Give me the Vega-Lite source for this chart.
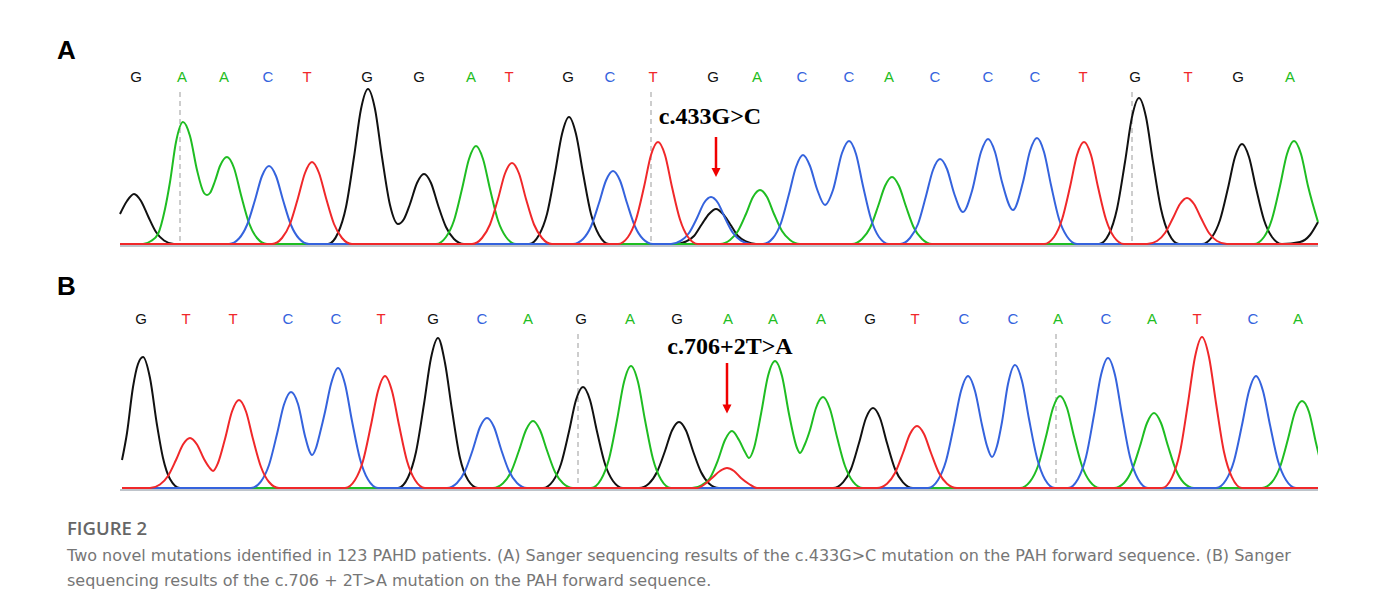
{
"$schema": "https://vega.github.io/schema/vega-lite/v6.json",
"background": "#ffffff",
"padding": {"left": 57, "top": 38, "right": 20, "bottom": 10},
"config": {"view": {"stroke": null}},
"resolve": {"scale": {"x": "independent", "y": "independent"}},
"spacing": 26,
"title": {"text": "FIGURE 2", "subtitle": ["Two novel mutations identified in 123 PAHD patients. (A) Sanger sequencing results of the c.433G>C mutation on the PAH forward sequence. (B) Sanger", "sequencing results of the c.706 + 2T>A mutation on the PAH forward sequence."], "orient": "bottom", "anchor": "start", "frame": "group", "dx": -53, "offset": 29, "baseline": "top", "font": "Open Sans", "fontSize": 18.5, "fontWeight": 600, "color": "#666666", "subtitleFont": "DejaVu Sans", "subtitleFontSize": 16, "subtitleFontWeight": "normal", "subtitleColor": "#767676", "subtitleLineHeight": 24.6, "subtitlePadding": 9.5},
"datasets": {
"trA": [
{"base":"G","pos":120,"sig":30},{"base":"G","pos":127,"sig":43},{"base":"G","pos":134,"sig":50},{"base":"G","pos":141,"sig":43},{"base":"G","pos":148,"sig":28},{"base":"G","pos":156,"sig":12},{"base":"G","pos":164,"sig":3.5},{"base":"G","pos":174,"sig":0},
{"base":"G","pos":328,"sig":0},{"base":"G","pos":338,"sig":11},{"base":"G","pos":346,"sig":37},{"base":"G","pos":354,"sig":87},{"base":"G","pos":361,"sig":135},{"base":"G","pos":368,"sig":155},{"base":"G","pos":375,"sig":135},{"base":"G","pos":382,"sig":87},{"base":"G","pos":390,"sig":39},{"base":"G","pos":398,"sig":20},{"base":"G","pos":404,"sig":25},{"base":"G","pos":410,"sig":40},{"base":"G","pos":417,"sig":61},{"base":"G","pos":424,"sig":70},{"base":"G","pos":431,"sig":61},{"base":"G","pos":438,"sig":39},{"base":"G","pos":446,"sig":17},{"base":"G","pos":454,"sig":5},{"base":"G","pos":464,"sig":0},
{"base":"G","pos":529,"sig":0},{"base":"G","pos":539,"sig":9},{"base":"G","pos":547,"sig":30},{"base":"G","pos":555,"sig":71},{"base":"G","pos":562,"sig":110},{"base":"G","pos":569,"sig":127},{"base":"G","pos":576,"sig":110},{"base":"G","pos":583,"sig":71},{"base":"G","pos":591,"sig":30},{"base":"G","pos":599,"sig":9},{"base":"G","pos":609,"sig":0},
{"base":"G","pos":676,"sig":0},{"base":"G","pos":686,"sig":2.5},{"base":"G","pos":694,"sig":8},{"base":"G","pos":702,"sig":20},{"base":"G","pos":709,"sig":30},{"base":"G","pos":716,"sig":35},{"base":"G","pos":723,"sig":30},{"base":"G","pos":730,"sig":20},{"base":"G","pos":738,"sig":8},{"base":"G","pos":746,"sig":2.5},{"base":"G","pos":756,"sig":0},
{"base":"G","pos":1099,"sig":0},{"base":"G","pos":1109,"sig":10},{"base":"G","pos":1117,"sig":35},{"base":"G","pos":1125,"sig":82},{"base":"G","pos":1132,"sig":127},{"base":"G","pos":1139,"sig":146},{"base":"G","pos":1146,"sig":127},{"base":"G","pos":1153,"sig":82},{"base":"G","pos":1161,"sig":35},{"base":"G","pos":1169,"sig":10},{"base":"G","pos":1179,"sig":0},
{"base":"G","pos":1202,"sig":0},{"base":"G","pos":1212,"sig":7},{"base":"G","pos":1220,"sig":24},{"base":"G","pos":1228,"sig":56},{"base":"G","pos":1235,"sig":87},{"base":"G","pos":1242,"sig":100},{"base":"G","pos":1249,"sig":87},{"base":"G","pos":1256,"sig":56},{"base":"G","pos":1264,"sig":24},{"base":"G","pos":1272,"sig":7},{"base":"G","pos":1282,"sig":0},{"base":"G","pos":1300,"sig":2},{"base":"G","pos":1310,"sig":9},{"base":"G","pos":1318,"sig":22},
{"base":"A","pos":120,"sig":0},{"base":"A","pos":143,"sig":0},{"base":"A","pos":151,"sig":3},{"base":"A","pos":158,"sig":10},{"base":"A","pos":165,"sig":35},{"base":"A","pos":170,"sig":62},{"base":"A","pos":176,"sig":102},{"base":"A","pos":183,"sig":122},{"base":"A","pos":190,"sig":108},{"base":"A","pos":197,"sig":74},{"base":"A","pos":204,"sig":51},{"base":"A","pos":207,"sig":49},{"base":"A","pos":210,"sig":51},{"base":"A","pos":215,"sig":63},{"base":"A","pos":220,"sig":78},{"base":"A","pos":227,"sig":87},{"base":"A","pos":234,"sig":76},{"base":"A","pos":241,"sig":49},{"base":"A","pos":249,"sig":21},{"base":"A","pos":257,"sig":6},{"base":"A","pos":267,"sig":0},
{"base":"A","pos":436,"sig":0},{"base":"A","pos":446,"sig":7},{"base":"A","pos":454,"sig":23.5},{"base":"A","pos":462,"sig":55},{"base":"A","pos":469,"sig":85},{"base":"A","pos":476,"sig":98},{"base":"A","pos":483,"sig":85},{"base":"A","pos":490,"sig":55},{"base":"A","pos":498,"sig":23.5},{"base":"A","pos":506,"sig":7},{"base":"A","pos":516,"sig":0},
{"base":"A","pos":720,"sig":0},{"base":"A","pos":730,"sig":4},{"base":"A","pos":738,"sig":13},{"base":"A","pos":746,"sig":30},{"base":"A","pos":753,"sig":47},{"base":"A","pos":760,"sig":54},{"base":"A","pos":767,"sig":47},{"base":"A","pos":774,"sig":30},{"base":"A","pos":782,"sig":13},{"base":"A","pos":790,"sig":4},{"base":"A","pos":800,"sig":0},
{"base":"A","pos":852,"sig":0},{"base":"A","pos":862,"sig":5},{"base":"A","pos":870,"sig":16},{"base":"A","pos":878,"sig":37.5},{"base":"A","pos":885,"sig":58},{"base":"A","pos":892,"sig":67},{"base":"A","pos":899,"sig":58},{"base":"A","pos":906,"sig":37.5},{"base":"A","pos":914,"sig":16},{"base":"A","pos":922,"sig":5},{"base":"A","pos":932,"sig":0},
{"base":"A","pos":1254,"sig":0},{"base":"A","pos":1264,"sig":7},{"base":"A","pos":1272,"sig":25},{"base":"A","pos":1280,"sig":58},{"base":"A","pos":1287,"sig":90},{"base":"A","pos":1294,"sig":103},{"base":"A","pos":1301,"sig":90},{"base":"A","pos":1308,"sig":58},{"base":"A","pos":1318,"sig":22},
{"base":"C","pos":120,"sig":0},{"base":"C","pos":229,"sig":0},{"base":"C","pos":239,"sig":5.5},{"base":"C","pos":247,"sig":19},{"base":"C","pos":255,"sig":44},{"base":"C","pos":262,"sig":68},{"base":"C","pos":269,"sig":78},{"base":"C","pos":276,"sig":68},{"base":"C","pos":283,"sig":44},{"base":"C","pos":291,"sig":19},{"base":"C","pos":299,"sig":5.5},{"base":"C","pos":309,"sig":0},
{"base":"C","pos":573,"sig":0},{"base":"C","pos":583,"sig":5},{"base":"C","pos":591,"sig":17.5},{"base":"C","pos":599,"sig":41},{"base":"C","pos":606,"sig":63.5},{"base":"C","pos":613,"sig":73},{"base":"C","pos":620,"sig":63.5},{"base":"C","pos":627,"sig":41},{"base":"C","pos":635,"sig":17.5},{"base":"C","pos":643,"sig":5},{"base":"C","pos":653,"sig":0},
{"base":"C","pos":671,"sig":0},{"base":"C","pos":681,"sig":3.3},{"base":"C","pos":689,"sig":11},{"base":"C","pos":697,"sig":26},{"base":"C","pos":704,"sig":41},{"base":"C","pos":711,"sig":47},{"base":"C","pos":718,"sig":41},{"base":"C","pos":725,"sig":26},{"base":"C","pos":733,"sig":11},{"base":"C","pos":741,"sig":3.3},{"base":"C","pos":751,"sig":0},
{"base":"C","pos":763,"sig":0},{"base":"C","pos":773,"sig":6},{"base":"C","pos":781,"sig":21},{"base":"C","pos":789,"sig":50},{"base":"C","pos":796,"sig":77},{"base":"C","pos":803,"sig":89},{"base":"C","pos":810,"sig":78},{"base":"C","pos":817,"sig":55},{"base":"C","pos":825,"sig":39},{"base":"C","pos":833,"sig":54},{"base":"C","pos":842,"sig":91},{"base":"C","pos":849,"sig":103},{"base":"C","pos":856,"sig":90},{"base":"C","pos":863,"sig":58},{"base":"C","pos":871,"sig":25},{"base":"C","pos":879,"sig":7},{"base":"C","pos":889,"sig":0},
{"base":"C","pos":900,"sig":0},{"base":"C","pos":910,"sig":6},{"base":"C","pos":918,"sig":20},{"base":"C","pos":926,"sig":48},{"base":"C","pos":933,"sig":74},{"base":"C","pos":940,"sig":85},{"base":"C","pos":947,"sig":75},{"base":"C","pos":954,"sig":51},{"base":"C","pos":963,"sig":32},{"base":"C","pos":972,"sig":53},{"base":"C","pos":981,"sig":92},{"base":"C","pos":988,"sig":105},{"base":"C","pos":995,"sig":92},{"base":"C","pos":1002,"sig":62},{"base":"C","pos":1013,"sig":34},{"base":"C","pos":1023,"sig":62},{"base":"C","pos":1030,"sig":93},{"base":"C","pos":1037,"sig":106},{"base":"C","pos":1044,"sig":92},{"base":"C","pos":1051,"sig":59},{"base":"C","pos":1059,"sig":25},{"base":"C","pos":1067,"sig":7.5},{"base":"C","pos":1077,"sig":0},{"base":"C","pos":1318,"sig":0},
{"base":"T","pos":120,"sig":0},{"base":"T","pos":272,"sig":0},{"base":"T","pos":282,"sig":6},{"base":"T","pos":290,"sig":20},{"base":"T","pos":298,"sig":46},{"base":"T","pos":305,"sig":71},{"base":"T","pos":312,"sig":82},{"base":"T","pos":319,"sig":71},{"base":"T","pos":326,"sig":46},{"base":"T","pos":334,"sig":20},{"base":"T","pos":342,"sig":6},{"base":"T","pos":352,"sig":0},
{"base":"T","pos":472,"sig":0},{"base":"T","pos":482,"sig":6},{"base":"T","pos":490,"sig":19.5},{"base":"T","pos":498,"sig":45},{"base":"T","pos":505,"sig":70.5},{"base":"T","pos":512,"sig":81},{"base":"T","pos":519,"sig":70.5},{"base":"T","pos":526,"sig":45},{"base":"T","pos":534,"sig":19.5},{"base":"T","pos":542,"sig":6},{"base":"T","pos":552,"sig":0},
{"base":"T","pos":618,"sig":0},{"base":"T","pos":628,"sig":7},{"base":"T","pos":636,"sig":24.5},{"base":"T","pos":644,"sig":57},{"base":"T","pos":651,"sig":89},{"base":"T","pos":658,"sig":102},{"base":"T","pos":665,"sig":89},{"base":"T","pos":672,"sig":57},{"base":"T","pos":680,"sig":24.5},{"base":"T","pos":688,"sig":7},{"base":"T","pos":698,"sig":0},
{"base":"T","pos":1044,"sig":0},{"base":"T","pos":1054,"sig":7},{"base":"T","pos":1062,"sig":24.5},{"base":"T","pos":1070,"sig":57},{"base":"T","pos":1077,"sig":89},{"base":"T","pos":1084,"sig":102},{"base":"T","pos":1091,"sig":89},{"base":"T","pos":1098,"sig":57},{"base":"T","pos":1106,"sig":24.5},{"base":"T","pos":1114,"sig":7},{"base":"T","pos":1124,"sig":0},
{"base":"T","pos":1147,"sig":0},{"base":"T","pos":1157,"sig":3},{"base":"T","pos":1165,"sig":11},{"base":"T","pos":1173,"sig":26},{"base":"T","pos":1180,"sig":40},{"base":"T","pos":1187,"sig":46},{"base":"T","pos":1194,"sig":40},{"base":"T","pos":1201,"sig":26},{"base":"T","pos":1209,"sig":11},{"base":"T","pos":1217,"sig":3},{"base":"T","pos":1227,"sig":0},{"base":"T","pos":1318,"sig":0}
],
"trB": [
{"base":"G","pos":122,"sig":28},{"base":"G","pos":127,"sig":55},{"base":"G","pos":133,"sig":101},{"base":"G","pos":138,"sig":124},{"base":"G","pos":143,"sig":131},{"base":"G","pos":150,"sig":110},{"base":"G","pos":157,"sig":63},{"base":"G","pos":163,"sig":30},{"base":"G","pos":170,"sig":9},{"base":"G","pos":180,"sig":0},
{"base":"G","pos":398,"sig":0},{"base":"G","pos":408,"sig":10.5},{"base":"G","pos":416,"sig":36},{"base":"G","pos":424,"sig":84},{"base":"G","pos":431,"sig":130},{"base":"G","pos":438,"sig":150},{"base":"G","pos":445,"sig":125},{"base":"G","pos":452,"sig":78},{"base":"G","pos":460,"sig":30},{"base":"G","pos":468,"sig":8},{"base":"G","pos":478,"sig":0},
{"base":"G","pos":543,"sig":0},{"base":"G","pos":553,"sig":7},{"base":"G","pos":561,"sig":24},{"base":"G","pos":569,"sig":56.5},{"base":"G","pos":576,"sig":88},{"base":"G","pos":583,"sig":101},{"base":"G","pos":590,"sig":88},{"base":"G","pos":597,"sig":56.5},{"base":"G","pos":605,"sig":24},{"base":"G","pos":613,"sig":7},{"base":"G","pos":623,"sig":0},
{"base":"G","pos":639,"sig":0},{"base":"G","pos":649,"sig":4.6},{"base":"G","pos":657,"sig":16},{"base":"G","pos":665,"sig":37},{"base":"G","pos":672,"sig":57.5},{"base":"G","pos":679,"sig":66},{"base":"G","pos":686,"sig":57.5},{"base":"G","pos":693,"sig":37},{"base":"G","pos":701,"sig":16},{"base":"G","pos":709,"sig":4.6},{"base":"G","pos":719,"sig":0},
{"base":"G","pos":833,"sig":0},{"base":"G","pos":843,"sig":5.6},{"base":"G","pos":851,"sig":19},{"base":"G","pos":859,"sig":45},{"base":"G","pos":866,"sig":70},{"base":"G","pos":873,"sig":80},{"base":"G","pos":880,"sig":70},{"base":"G","pos":887,"sig":45},{"base":"G","pos":895,"sig":19},{"base":"G","pos":903,"sig":5.6},{"base":"G","pos":913,"sig":0},{"base":"G","pos":1320,"sig":0},
{"base":"A","pos":122,"sig":0},{"base":"A","pos":493,"sig":0},{"base":"A","pos":503,"sig":4.7},{"base":"A","pos":511,"sig":16},{"base":"A","pos":519,"sig":37.5},{"base":"A","pos":526,"sig":58},{"base":"A","pos":533,"sig":67},{"base":"A","pos":540,"sig":58},{"base":"A","pos":547,"sig":37.5},{"base":"A","pos":555,"sig":16},{"base":"A","pos":563,"sig":4.7},{"base":"A","pos":573,"sig":0},
{"base":"A","pos":591,"sig":0},{"base":"A","pos":601,"sig":8.5},{"base":"A","pos":609,"sig":29},{"base":"A","pos":617,"sig":68},{"base":"A","pos":624,"sig":106},{"base":"A","pos":631,"sig":122},{"base":"A","pos":638,"sig":106},{"base":"A","pos":645,"sig":68},{"base":"A","pos":653,"sig":29},{"base":"A","pos":661,"sig":8.5},{"base":"A","pos":671,"sig":0},
{"base":"A","pos":692,"sig":0},{"base":"A","pos":702,"sig":3},{"base":"A","pos":710,"sig":10},{"base":"A","pos":718,"sig":28},{"base":"A","pos":725,"sig":48},{"base":"A","pos":732,"sig":57},{"base":"A","pos":739,"sig":48},{"base":"A","pos":745,"sig":36},{"base":"A","pos":749,"sig":30},{"base":"A","pos":754,"sig":40},{"base":"A","pos":761,"sig":74},{"base":"A","pos":768,"sig":112},{"base":"A","pos":775,"sig":127},{"base":"A","pos":782,"sig":112},{"base":"A","pos":789,"sig":74},{"base":"A","pos":797,"sig":40},{"base":"A","pos":800,"sig":35},{"base":"A","pos":805,"sig":44},{"base":"A","pos":810,"sig":58},{"base":"A","pos":816,"sig":80},{"base":"A","pos":823,"sig":91},{"base":"A","pos":830,"sig":79},{"base":"A","pos":837,"sig":51},{"base":"A","pos":845,"sig":22},{"base":"A","pos":853,"sig":6.4},{"base":"A","pos":863,"sig":0},
{"base":"A","pos":1020,"sig":0},{"base":"A","pos":1030,"sig":6.4},{"base":"A","pos":1038,"sig":22},{"base":"A","pos":1046,"sig":51.5},{"base":"A","pos":1053,"sig":80},{"base":"A","pos":1060,"sig":92},{"base":"A","pos":1067,"sig":80},{"base":"A","pos":1074,"sig":51.5},{"base":"A","pos":1082,"sig":22},{"base":"A","pos":1090,"sig":6.4},{"base":"A","pos":1100,"sig":0},
{"base":"A","pos":1114,"sig":0},{"base":"A","pos":1124,"sig":5},{"base":"A","pos":1132,"sig":18},{"base":"A","pos":1140,"sig":42},{"base":"A","pos":1147,"sig":65},{"base":"A","pos":1154,"sig":75},{"base":"A","pos":1161,"sig":65},{"base":"A","pos":1168,"sig":42},{"base":"A","pos":1176,"sig":18},{"base":"A","pos":1184,"sig":5},{"base":"A","pos":1194,"sig":0},
{"base":"A","pos":1262,"sig":0},{"base":"A","pos":1272,"sig":6},{"base":"A","pos":1280,"sig":21},{"base":"A","pos":1288,"sig":49},{"base":"A","pos":1295,"sig":76},{"base":"A","pos":1302,"sig":87},{"base":"A","pos":1309,"sig":76},{"base":"A","pos":1316,"sig":45},{"base":"A","pos":1320,"sig":28},
{"base":"C","pos":122,"sig":0},{"base":"C","pos":251,"sig":0},{"base":"C","pos":261,"sig":6.7},{"base":"C","pos":269,"sig":23},{"base":"C","pos":277,"sig":54},{"base":"C","pos":284,"sig":83.5},{"base":"C","pos":291,"sig":96},{"base":"C","pos":298,"sig":84},{"base":"C","pos":305,"sig":52},{"base":"C","pos":309,"sig":38},{"base":"C","pos":312,"sig":33},{"base":"C","pos":316,"sig":40},{"base":"C","pos":320,"sig":55},{"base":"C","pos":325,"sig":76},{"base":"C","pos":331,"sig":104},{"base":"C","pos":338,"sig":120},{"base":"C","pos":345,"sig":104},{"base":"C","pos":352,"sig":67},{"base":"C","pos":360,"sig":29},{"base":"C","pos":368,"sig":8.4},{"base":"C","pos":378,"sig":0},
{"base":"C","pos":447,"sig":0},{"base":"C","pos":457,"sig":5},{"base":"C","pos":465,"sig":17},{"base":"C","pos":473,"sig":39},{"base":"C","pos":480,"sig":61},{"base":"C","pos":487,"sig":70},{"base":"C","pos":494,"sig":61},{"base":"C","pos":501,"sig":39},{"base":"C","pos":509,"sig":17},{"base":"C","pos":517,"sig":5},{"base":"C","pos":527,"sig":0},
{"base":"C","pos":928,"sig":0},{"base":"C","pos":938,"sig":8},{"base":"C","pos":946,"sig":27},{"base":"C","pos":954,"sig":63},{"base":"C","pos":961,"sig":97},{"base":"C","pos":968,"sig":112},{"base":"C","pos":975,"sig":97},{"base":"C","pos":982,"sig":63},{"base":"C","pos":987,"sig":42},{"base":"C","pos":992,"sig":31},{"base":"C","pos":997,"sig":42},{"base":"C","pos":1002,"sig":66},{"base":"C","pos":1008,"sig":104},{"base":"C","pos":1015,"sig":123},{"base":"C","pos":1022,"sig":107},{"base":"C","pos":1029,"sig":69},{"base":"C","pos":1037,"sig":30},{"base":"C","pos":1045,"sig":8.6},{"base":"C","pos":1055,"sig":0},
{"base":"C","pos":1068,"sig":0},{"base":"C","pos":1078,"sig":9},{"base":"C","pos":1086,"sig":31},{"base":"C","pos":1094,"sig":73},{"base":"C","pos":1101,"sig":113},{"base":"C","pos":1108,"sig":130},{"base":"C","pos":1115,"sig":113},{"base":"C","pos":1122,"sig":73},{"base":"C","pos":1130,"sig":31},{"base":"C","pos":1138,"sig":9},{"base":"C","pos":1148,"sig":0},
{"base":"C","pos":1216,"sig":0},{"base":"C","pos":1226,"sig":8},{"base":"C","pos":1234,"sig":27},{"base":"C","pos":1242,"sig":63},{"base":"C","pos":1249,"sig":97},{"base":"C","pos":1256,"sig":112},{"base":"C","pos":1263,"sig":97},{"base":"C","pos":1270,"sig":63},{"base":"C","pos":1278,"sig":27},{"base":"C","pos":1286,"sig":8},{"base":"C","pos":1296,"sig":0},{"base":"C","pos":1320,"sig":0},
{"base":"T","pos":122,"sig":0},{"base":"T","pos":150,"sig":0},{"base":"T","pos":160,"sig":3.5},{"base":"T","pos":168,"sig":12},{"base":"T","pos":176,"sig":28},{"base":"T","pos":183,"sig":43.5},{"base":"T","pos":190,"sig":50},{"base":"T","pos":197,"sig":43.5},{"base":"T","pos":204,"sig":29},{"base":"T","pos":209,"sig":21},{"base":"T","pos":213,"sig":17},{"base":"T","pos":218,"sig":25},{"base":"T","pos":225,"sig":49},{"base":"T","pos":232,"sig":76.5},{"base":"T","pos":239,"sig":88},{"base":"T","pos":246,"sig":76.5},{"base":"T","pos":253,"sig":49},{"base":"T","pos":261,"sig":21},{"base":"T","pos":269,"sig":6},{"base":"T","pos":279,"sig":0},
{"base":"T","pos":345,"sig":0},{"base":"T","pos":355,"sig":8},{"base":"T","pos":363,"sig":27},{"base":"T","pos":371,"sig":63},{"base":"T","pos":378,"sig":97},{"base":"T","pos":385,"sig":112},{"base":"T","pos":392,"sig":97},{"base":"T","pos":399,"sig":63},{"base":"T","pos":407,"sig":27},{"base":"T","pos":415,"sig":8},{"base":"T","pos":425,"sig":0},
{"base":"T","pos":697,"sig":0},{"base":"T","pos":705,"sig":4},{"base":"T","pos":712,"sig":10},{"base":"T","pos":720,"sig":17},{"base":"T","pos":727,"sig":20},{"base":"T","pos":734,"sig":17},{"base":"T","pos":741,"sig":10},{"base":"T","pos":749,"sig":4},{"base":"T","pos":757,"sig":0},
{"base":"T","pos":877,"sig":0},{"base":"T","pos":887,"sig":4.3},{"base":"T","pos":895,"sig":15},{"base":"T","pos":903,"sig":35},{"base":"T","pos":910,"sig":54},{"base":"T","pos":917,"sig":62},{"base":"T","pos":924,"sig":54},{"base":"T","pos":931,"sig":35},{"base":"T","pos":939,"sig":15},{"base":"T","pos":947,"sig":4.3},{"base":"T","pos":957,"sig":0},
{"base":"T","pos":1162,"sig":0},{"base":"T","pos":1172,"sig":10.6},{"base":"T","pos":1180,"sig":36},{"base":"T","pos":1188,"sig":85},{"base":"T","pos":1195,"sig":131},{"base":"T","pos":1202,"sig":151},{"base":"T","pos":1209,"sig":131},{"base":"T","pos":1216,"sig":85},{"base":"T","pos":1224,"sig":36},{"base":"T","pos":1232,"sig":10.6},{"base":"T","pos":1242,"sig":0},{"base":"T","pos":1320,"sig":0}
],
"ltA": [
{"base":"G","pos":136,"sig":167},{"base":"A","pos":182,"sig":167},{"base":"A","pos":224,"sig":167},{"base":"C","pos":268,"sig":167},{"base":"T","pos":307,"sig":167},{"base":"G","pos":367,"sig":167},{"base":"G","pos":419,"sig":167},{"base":"A","pos":471,"sig":167},{"base":"T","pos":509,"sig":167},{"base":"G","pos":568,"sig":167},{"base":"C","pos":610,"sig":167},{"base":"T","pos":653,"sig":167},{"base":"G","pos":713,"sig":167},{"base":"A","pos":757,"sig":167},{"base":"C","pos":802,"sig":167},{"base":"C","pos":849,"sig":167},{"base":"A","pos":889,"sig":167},{"base":"C","pos":935,"sig":167},{"base":"C","pos":988,"sig":167},{"base":"C","pos":1035,"sig":167},{"base":"T","pos":1083,"sig":167},{"base":"G","pos":1135,"sig":167},{"base":"T","pos":1188,"sig":167},{"base":"G","pos":1238,"sig":167},{"base":"A","pos":1290,"sig":167}
],
"ltB": [
{"base":"G","pos":141,"sig":169},{"base":"T","pos":186,"sig":169},{"base":"T","pos":233,"sig":169},{"base":"C","pos":288,"sig":169},{"base":"C","pos":336,"sig":169},{"base":"T","pos":381,"sig":169},{"base":"G","pos":433,"sig":169},{"base":"C","pos":482,"sig":169},{"base":"A","pos":528,"sig":169},{"base":"G","pos":581,"sig":169},{"base":"A","pos":630,"sig":169},{"base":"G","pos":677,"sig":169},{"base":"A","pos":728,"sig":169},{"base":"A","pos":773,"sig":169},{"base":"A","pos":821,"sig":169},{"base":"G","pos":870,"sig":169},{"base":"T","pos":915,"sig":169},{"base":"C","pos":964,"sig":169},{"base":"C","pos":1013,"sig":169},{"base":"A","pos":1058,"sig":169},{"base":"C","pos":1106,"sig":169},{"base":"A","pos":1152,"sig":169},{"base":"T","pos":1197,"sig":169},{"base":"C","pos":1253,"sig":169},{"base":"A","pos":1298,"sig":169}
]
},
"vconcat": [
{
"width": 1198, "height": 175,
"title": {"text": "A", "anchor": "start", "frame": "group", "dx": -63, "offset": 6, "baseline": "top", "font": "Liberation Sans", "fontSize": 26, "fontWeight": "bold", "color": "#000000"},
"layer": [
{"data": {"values": [{"pos": 180, "top": 152, "bottom": 0}, {"pos": 651, "top": 152, "bottom": 0}, {"pos": 1132, "top": 152, "bottom": 0}]}, "mark": {"type": "rule", "strokeDash": [5, 4], "strokeWidth": 1.5, "color": "#bdbdbd"},
 "encoding": {"x": {"field": "pos", "type": "quantitative", "scale": {"domain": [120, 1318], "nice": false, "zero": false}, "axis": null}, "y": {"field": "top", "type": "quantitative", "scale": {"domain": [-3, 172], "nice": false, "zero": false}, "axis": null}, "y2": {"field": "bottom"}}},
{"data": {"values": [{"level": -2}]}, "mark": {"type": "rule", "strokeWidth": 1.5, "color": "#a9b0ba"}, "encoding": {"y": {"field": "level", "type": "quantitative"}}},
{"data": {"name": "trA"}, "mark": {"type": "line", "interpolate": "monotone", "strokeWidth": 2},
 "encoding": {"x": {"field": "pos", "type": "quantitative"}, "y": {"field": "sig", "type": "quantitative"}, "color": {"field": "base", "type": "nominal", "scale": {"domain": ["A", "C", "G", "T"], "range": ["#1fbd22", "#3563dd", "#111111", "#f0282a"]}, "legend": null}}},
{"data": {"name": "ltA"}, "mark": {"type": "text", "font": "Liberation Sans", "fontSize": 15, "baseline": "middle", "align": "center"},
 "encoding": {"x": {"field": "pos", "type": "quantitative"}, "y": {"field": "sig", "type": "quantitative"}, "text": {"field": "base", "type": "nominal"}, "color": {"field": "base", "type": "nominal", "legend": null}}},
{"data": {"values": [{"label": "c.433G>C", "pos": 710, "sig": 120}]}, "mark": {"type": "text", "font": "Liberation Serif", "fontWeight": "bold", "fontSize": 24, "baseline": "alphabetic", "align": "center", "color": "#000000"},
 "encoding": {"x": {"field": "pos", "type": "quantitative"}, "y": {"field": "sig", "type": "quantitative"}, "text": {"field": "label", "type": "nominal"}}},
{"data": {"values": [{"pos": 716, "top": 107, "bot": 75}]}, "mark": {"type": "rule", "color": "#f00000", "strokeWidth": 2.5},
 "encoding": {"x": {"field": "pos", "type": "quantitative"}, "y": {"field": "top", "type": "quantitative"}, "y2": {"field": "bot"}}},
{"data": {"values": [{"pos": 716, "tip": 71.5}]}, "mark": {"type": "point", "shape": "M-1,-1L1,-1L0,1Z", "size": 81, "filled": true, "color": "#f00000", "opacity": 1, "strokeWidth": 0},
 "encoding": {"x": {"field": "pos", "type": "quantitative"}, "y": {"field": "tip", "type": "quantitative"}}}
]
},
{
"width": 1198, "height": 175,
"title": {"text": "B", "anchor": "start", "frame": "group", "dx": -63, "offset": 12, "baseline": "top", "font": "Liberation Sans", "fontSize": 26, "fontWeight": "bold", "color": "#000000"},
"layer": [
{"data": {"values": [{"pos": 578, "top": 154, "bottom": 0}, {"pos": 1056, "top": 154, "bottom": 0}]}, "mark": {"type": "rule", "strokeDash": [5, 4], "strokeWidth": 1.5, "color": "#bdbdbd"},
 "encoding": {"x": {"field": "pos", "type": "quantitative", "scale": {"domain": [120, 1318], "nice": false, "zero": false}, "axis": null}, "y": {"field": "top", "type": "quantitative", "scale": {"domain": [-3, 172], "nice": false, "zero": false}, "axis": null}, "y2": {"field": "bottom"}}},
{"data": {"values": [{"level": -2}]}, "mark": {"type": "rule", "strokeWidth": 1.5, "color": "#a9b0ba"}, "encoding": {"y": {"field": "level", "type": "quantitative"}}},
{"data": {"name": "trB"}, "mark": {"type": "line", "interpolate": "monotone", "strokeWidth": 2, "clip": true},
 "encoding": {"x": {"field": "pos", "type": "quantitative"}, "y": {"field": "sig", "type": "quantitative"}, "color": {"field": "base", "type": "nominal", "legend": null}}},
{"data": {"name": "ltB"}, "mark": {"type": "text", "font": "Liberation Sans", "fontSize": 15, "baseline": "middle", "align": "center"},
 "encoding": {"x": {"field": "pos", "type": "quantitative"}, "y": {"field": "sig", "type": "quantitative"}, "text": {"field": "base", "type": "nominal"}, "color": {"field": "base", "type": "nominal", "legend": null}}},
{"data": {"values": [{"label": "c.706+2T>A", "pos": 730, "sig": 134}]}, "mark": {"type": "text", "font": "Liberation Serif", "fontWeight": "bold", "fontSize": 24, "baseline": "alphabetic", "align": "center", "color": "#000000"},
 "encoding": {"x": {"field": "pos", "type": "quantitative"}, "y": {"field": "sig", "type": "quantitative"}, "text": {"field": "label", "type": "nominal"}}},
{"data": {"values": [{"pos": 727, "top": 125, "bot": 83}]}, "mark": {"type": "rule", "color": "#f00000", "strokeWidth": 2.5},
 "encoding": {"x": {"field": "pos", "type": "quantitative"}, "y": {"field": "top", "type": "quantitative"}, "y2": {"field": "bot"}}},
{"data": {"values": [{"pos": 727, "tip": 79}]}, "mark": {"type": "point", "shape": "M-1,-1L1,-1L0,1Z", "size": 81, "filled": true, "color": "#f00000", "opacity": 1, "strokeWidth": 0},
 "encoding": {"x": {"field": "pos", "type": "quantitative"}, "y": {"field": "tip", "type": "quantitative"}}}
]
}
]
}
